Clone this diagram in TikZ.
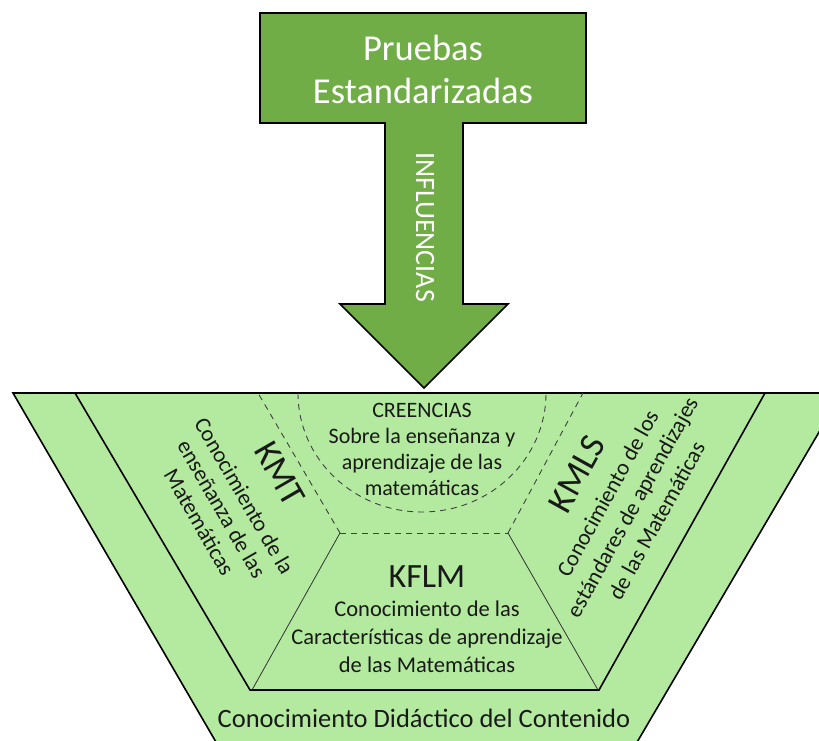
\documentclass[tikz,border=0pt]{standalone}
\usepackage{fontspec}
\setmainfont{Carlito}
\usepackage{tikz}
\definecolor{arrowgreen}{HTML}{70AD47}
\definecolor{bandgreen}{HTML}{B3EA9F}
\tikzstyle{band} = [draw=black, line width=1.6pt, fill=bandgreen, line join=miter]
\tikzstyle{sideline} = [draw=black!80, line width=0.8pt]
\tikzstyle{dashline} = [draw=black!75, line width=0.9pt, dash pattern=on 6pt off 5pt]
\tikzstyle{txt} = [align=center, text=black!90, inner sep=0pt]

\begin{document}
\begin{tikzpicture}[x=1pt, y=1pt]
    \useasboundingbox (0,0) rectangle (819,741);
    \clip (0,0) rectangle (819,741);
    % bands
    \draw[band] (13,348) -- (842,348) -- (626,-20) -- (227,-20) -- cycle;
    \draw[band] (75,348) -- (765,348) -- (599,51) -- (250,51) -- cycle;
    % inner regions
    \coordinate (tl) at (340,208);
    \coordinate (tr) at (508,208);
    \coordinate (bl) at (252,51);
    \coordinate (br) at (598,51);
    \draw[sideline] (bl) -- (tl);
    \draw[sideline] (br) -- (tr);
    \draw[dashline] (tl) -- (tr);
    \draw[dashline] (tl) -- (258,348);
    \draw[dashline] (tr) -- (583,348);
    \draw[dashline] (298,348) arc[start angle=180, end angle=360, x radius=124, y radius=119];
    % arrow
    \draw[fill=arrowgreen, line width=1.6pt, line join=miter] (260,728) -- (586,728) -- (586,618) -- (463,618) -- (463,437) -- (508,437) -- (424,353) -- (340,437) -- (385,437) -- (385,618) -- (260,618) -- cycle;
    \node[txt, text=white, font=\fontsize{36.5}{43}\selectfont] (pruebas) at (423,672) {Pruebas\\Estandarizadas};
    \node[txt, text=white, rotate=-90, font=\fontsize{28}{32}\selectfont] (influencias) at (425,514) {INFLUENCIAS};
    % labels
    \node[txt, font=\fontsize{22}{26}\selectfont] (creencias) at (422,292) {CREENCIAS\\Sobre la enseñanza y\\aprendizaje de las\\matemáticas};
    \node[txt, rotate=-60, font=\fontsize{36}{40}\selectfont] (kmt) at (280,267) {KMT};
    \node[txt, rotate=-60, font=\fontsize{22.5}{26}\selectfont] (kmttext) at (222,232) {Conocimiento de la\\enseñanza de las\\Matemáticas};
    \node[txt, rotate=61, font=\fontsize{36}{40}\selectfont] (kmls) at (577,267) {KMLS};
    \node[txt, rotate=61, font=\fontsize{22.5}{28}\selectfont] (kmlstext) at (632,234) {Conocimiento de los\\estándares de aprendizajes\\de las Matemáticas};
    \node[txt, font=\fontsize{34}{40}\selectfont] (kflm) at (427,164) {KFLM};
    \node[txt, font=\fontsize{22.5}{28}\selectfont] (kflmtext) at (427,104) {Conocimiento de las\\Características de aprendizaje\\de las Matemáticas};
    \node[txt, font=\fontsize{26.5}{30}\selectfont] (cdc) at (424,23) {Conocimiento Didáctico del Contenido};
\end{tikzpicture}
\end{document}
